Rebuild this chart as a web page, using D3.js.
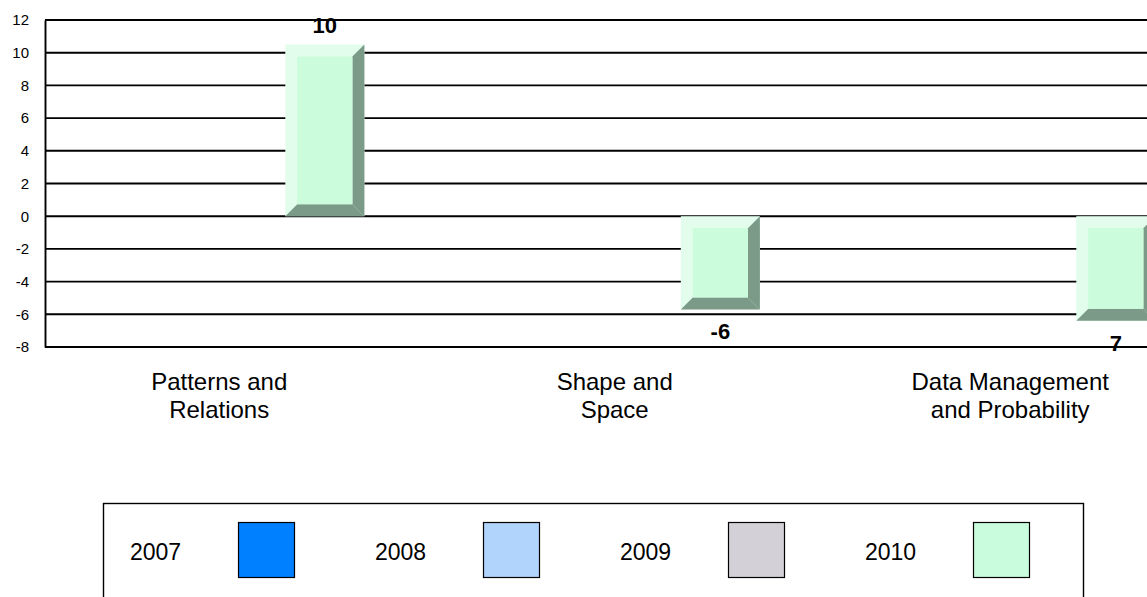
<!DOCTYPE html>
<html>
<head>
<meta charset="utf-8">
<script src="https://cdn.jsdelivr.net/npm/d3@7"></script>
<style>
  html, body { margin: 0; padding: 0; background: #fff; }
  svg { display: block; font-family: "Liberation Sans", Arial, sans-serif; }
</style>
</head>
<body>
<svg id="chart" width="1147" height="597"></svg>
<script>
// ---- data ----
const categories = ["Patterns and Relations", "Shape and Space", "Data Management and Probability"];
const categoryLines = [["Patterns and", "Relations"], ["Shape and", "Space"], ["Data Management", "and Probability"]];
const seriesNames = ["2007", "2008", "2009", "2010"];
const values2007 = [null, null, null];
const values2008 = [null, null, null];
const values2009 = [null, null, null];
const values2010 = [10.5, -5.7, -6.4];
const valueLabels2010 = ["10", "-6", "7"];
const yTicks = [12, 10, 8, 6, 4, 2, 0, -2, -4, -6, -8];

// ---- styles ----
const seriesColors = ["#0080ff", "#b0d4fc", "#d4d0d8", "#c8fcdc"];
const bevelLight = "#e2fdeb";
const bevelFace = "#cbfcdb";
const bevelDark = "#7c9a88";

const svg = d3.select("#chart");
const W = 1147, H = 597;
svg.append("rect").attr("width", W).attr("height", H).attr("fill", "#fff");

const plotLeft = 45, plotRight = 1147;
const y = d3.scaleLinear().domain([-8, 12]).range([347, 20]);
const x0 = d3.scaleBand().domain(categories).range([48, 1155.4]).paddingInner(0.2).paddingOuter(0);
const x1 = d3.scaleBand().domain(seriesNames).range([0, x0.bandwidth()]);

// gridlines
const grid = svg.append("g");
grid.selectAll("line").data(yTicks).join("line")
  .attr("x1", plotLeft).attr("x2", plotRight)
  .attr("y1", d => y(d)).attr("y2", d => y(d))
  .attr("stroke", "#000").attr("stroke-width", 1.9);

// left axis
const yAxis = d3.axisLeft(y).tickValues(yTicks).tickSize(0).tickPadding(16).tickFormat(d => String(d));
const gy = svg.append("g").attr("transform", `translate(${plotLeft},0)`).call(yAxis);
gy.select(".domain").attr("stroke", "#000").attr("stroke-width", 1.9);
gy.selectAll("text").attr("font-size", 15).attr("fill", "#000")
  .attr("font-family", "'Liberation Sans', Arial, sans-serif");

// bars (bevel style)
const seriesValues = [values2007, values2008, values2009, values2010];
const bars = [];
seriesValues.forEach((vals, si) => {
  vals.forEach((v, ci) => {
    if (v === null) return;
    bars.push({ s: seriesNames[si], si, c: categories[ci], ci, v });
  });
});

const b = 12;
const barG = svg.append("g");
bars.forEach(d => {
  const xa = x0(d.c) + x1(d.s);
  const xb = xa + x1.bandwidth();
  const ya = Math.min(y(d.v), y(0));
  const yb = Math.max(y(d.v), y(0));
  const g = barG.append("g");
  g.append("rect").attr("x", xa).attr("y", ya).attr("width", xb - xa).attr("height", yb - ya)
    .attr("fill", bevelLight);
  g.append("polygon")
    .attr("points", [[xb, ya], [xb, yb], [xb - b, yb - b], [xb - b, ya + b]].map(p => p.join(",")).join(" "))
    .attr("fill", bevelDark);
  g.append("polygon")
    .attr("points", [[xa, yb], [xb, yb], [xb - b, yb - b], [xa + b, yb - b]].map(p => p.join(",")).join(" "))
    .attr("fill", bevelDark);
  g.append("rect").attr("x", xa + b).attr("y", ya + b)
    .attr("width", Math.max(0, xb - xa - 2 * b)).attr("height", Math.max(0, yb - ya - 2 * b))
    .attr("fill", bevelFace);
});

// value labels
svg.append("g").selectAll("text").data(bars).join("text")
  .attr("x", d => x0(d.c) + x1(d.s) + x1.bandwidth() / 2)
  .attr("y", d => d.v >= 0 ? y(d.v) - 12 : y(d.v) + 30)
  .attr("text-anchor", "middle")
  .attr("font-size", 22).attr("font-weight", "bold").attr("fill", "#000")
  .text(d => valueLabels2010[d.ci]);

// category labels
const catG = svg.append("g");
categories.forEach((c, i) => {
  const cx = x0(c) + x0.bandwidth() / 2 + 13;
  const t = catG.append("text")
    .attr("x", cx)
    .attr("y", 390)
    .attr("text-anchor", "middle")
    .attr("font-size", 24).attr("fill", "#000");
  categoryLines[i].forEach((ln, j) => {
    t.append("tspan").attr("x", cx).attr("dy", j === 0 ? 0 : 28).text(ln);
  });
});

// legend
const lx = d3.scaleBand().domain(seriesNames).range([103, 1083]);
const leg = svg.append("g");
leg.append("rect").attr("x", 103.5).attr("y", 503.5).attr("width", 980).attr("height", 120)
  .attr("fill", "#fff").attr("stroke", "#000").attr("stroke-width", 1.4);
seriesNames.forEach((s, i) => {
  leg.append("text").attr("x", lx(s) + 27).attr("y", 560)
    .attr("font-size", 23).attr("fill", "#000").text(s);
  leg.append("rect").attr("x", lx(s) + 135.5).attr("y", 522.5).attr("width", 56).attr("height", 55)
    .attr("fill", seriesColors[i]).attr("stroke", "#000").attr("stroke-width", 1.2);
});
</script>
</body>
</html>
